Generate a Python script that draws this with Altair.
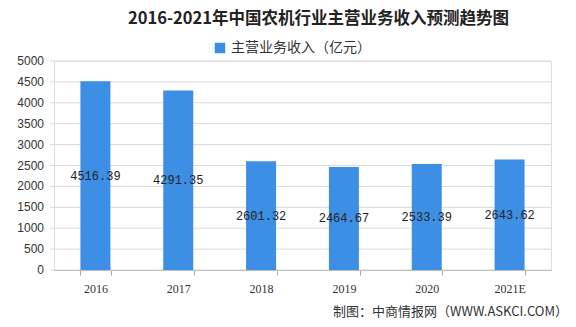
import altair as alt
import pandas as pd

years = ["2016", "2017", "2018", "2019", "2020", "2021E"]
revenue = [4516.39, 4291.35, 2601.32, 2464.67, 2533.39, 2643.62]
series_name = "主营业务收入（亿元）"
title_text = "2016-2021年中国农机行业主营业务收入预测趋势图"
source_text = "制图：中商情报网（WWW.ASKCI.COM）"
y_ticks = [0, 500, 1000, 1500, 2000, 2500, 3000, 3500, 4000, 4500, 5000]

df = pd.DataFrame({"year": years, "value": revenue, "series": [series_name] * len(years)})
df["half"] = df["value"] / 2
df["label"] = df["value"].map(lambda v: f"{v:.2f}")
ticks_df = pd.DataFrame({"tick": y_ticks, "tick_label": [str(t) for t in y_ticks]})
source_df = pd.DataFrame({"text": [source_text]})

y_scale = alt.Scale(domain=[0, 5000], nice=False)

x = alt.X("year:N", sort=years, title=None,
          scale=alt.Scale(paddingInner=0.62, paddingOuter=0.31),
          axis=alt.Axis(labelAngle=0, labelFontSize=12, labelColor="#333333",
                        labelFont="Liberation Serif", labelPadding=8,
                        domainColor="#a6a6a6", tickColor="#a6a6a6", tickSize=5,
                        tickBand="extent", grid=False))

grid = alt.Chart(ticks_df).mark_rule(color="#d9d9d9", strokeWidth=1).encode(
    y=alt.Y("tick:Q", scale=y_scale, axis=None),
    x=alt.value(-4), x2=alt.value(497),
)

tick_labels = alt.Chart(ticks_df).mark_text(
    align="right", baseline="middle", font="Liberation Sans", fontSize=12, color="#333333"
).encode(
    y=alt.Y("tick:Q", scale=y_scale, axis=None),
    x=alt.value(-10),
    text="tick_label:N",
)

bars = alt.Chart(df).mark_bar(size=30).encode(
    x=x,
    y=alt.Y("value:Q", title=None, scale=y_scale, axis=None),
    color=alt.Color("series:N", scale=alt.Scale(range=["#3D8FE5"]),
                    legend=alt.Legend(title=None, orient="none", legendX=159, legendY=-20,
                                      symbolType="square", symbolSize=110,
                                      labelFontSize=14, labelFont="Noto Sans CJK SC",
                                      labelColor="#333333")),
)

labels = alt.Chart(df).mark_text(font="Liberation Mono", fontSize=12, color="#222222").encode(
    x=alt.X("year:N", sort=years),
    y=alt.Y("half:Q", scale=y_scale, axis=None),
    text="label:N",
)

source = alt.Chart(source_df).mark_text(font="Noto Sans CJK SC", fontSize=13, color="#333333",
                                        align="right").encode(
    x=alt.value(514), y=alt.value(251), text="text:N"
)

chart = alt.layer(grid, tick_labels, bars, labels, source).properties(
    width=497, height=209,
    title=alt.TitleParams(title_text, font="Noto Sans CJK SC", fontSize=16.5,
                          fontWeight="bold", color="#222222", anchor="middle",
                          frame="group", offset=14, dx=16),
    padding={"left": 54, "top": 61, "right": 25, "bottom": 57},
    autosize=alt.AutoSizeParams(type="none"),
).configure_view(stroke=None).configure(background="white")

chart.save("out.html", embed_options={"renderer": "svg", "actions": False})
